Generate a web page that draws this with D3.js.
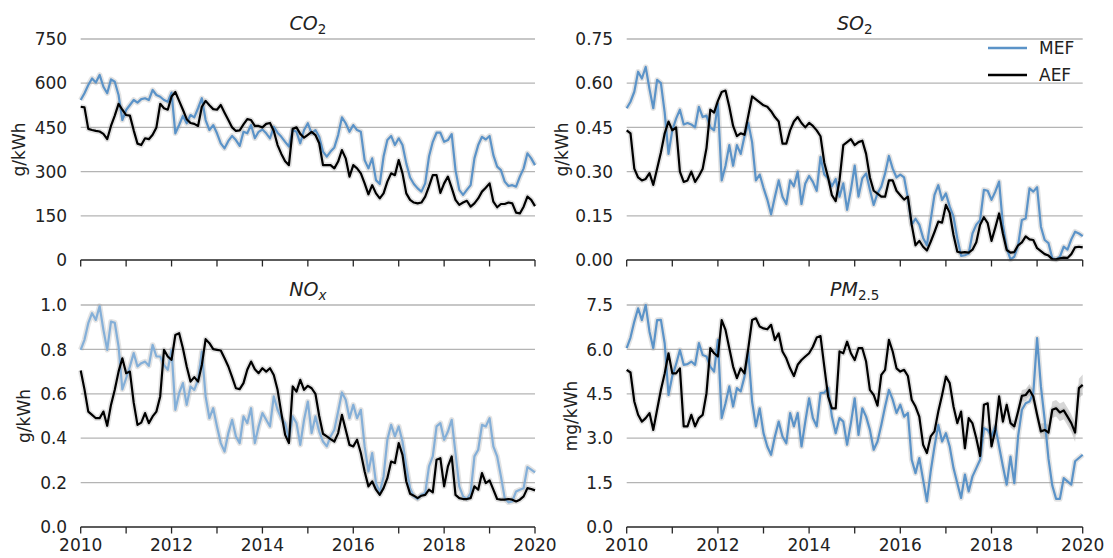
<!DOCTYPE html>
<html>
<head>
<meta charset="utf-8">
<script src="https://cdn.jsdelivr.net/npm/d3@7"></script>
<style>
  body { margin: 0; background: #fff; }
  svg { display: block; font-family: "DejaVu Sans", sans-serif; }
</style>
</head>
<body>
<svg id="chart" width="1113" height="558"></svg>
<script>
// Monthly emission factors, Jan 2010 .. Jan 2020 (121 months)
const startYear = 2010;

const co2MEF = [543,566,594,616,602,628,588,566,613,605,560,475,509,526,543,534,546,549,543,577,
  560,554,543,537,568,430,458,489,464,492,484,515,549,475,441,458,430,396,379,404,
  421,407,387,435,430,458,413,435,443,430,413,452,432,418,401,385,441,435,396,441,
  464,430,441,418,368,351,368,382,424,484,464,435,458,441,435,339,311,345,271,258,
  351,407,421,390,413,390,328,280,258,243,232,260,351,401,432,432,401,407,427,305,
  238,221,238,254,345,390,418,409,421,356,317,305,266,251,254,249,283,311,362,345,322];
const co2AEF = [520,518,445,441,438,436,428,410,455,490,530,510,492,490,440,395,390,413,410,425,
  450,530,515,510,555,570,540,510,478,465,462,455,520,540,525,512,510,526,500,475,
  450,438,440,460,478,475,455,455,450,462,465,438,390,360,335,322,445,450,428,415,
  425,435,424,396,322,322,322,311,334,373,345,283,322,311,294,260,223,254,226,209,
  226,266,294,288,339,294,226,204,195,192,195,215,250,288,288,228,260,283,245,204,
  187,195,201,181,192,209,232,245,260,198,179,190,190,195,192,161,158,181,215,204,183];

const so2MEF = [.515,.537,.571,.639,.616,.655,.58,.515,.611,.60,.50,.36,.44,.48,.51,.46,.465,.46,.45,.52,
  .485,.49,.45,.44,.53,.27,.32,.39,.32,.39,.36,.42,.465,.40,.27,.29,.245,.205,.155,.215,
  .27,.215,.19,.27,.25,.30,.19,.26,.285,.265,.235,.35,.29,.277,.25,.275,.215,.26,.17,.238,
  .32,.215,.277,.294,.238,.187,.226,.249,.294,.353,.31,.28,.29,.28,.21,.12,.14,.12,.075,.05,
  .136,.221,.254,.204,.226,.181,.147,.074,.014,.016,.022,.09,.12,.135,.238,.235,.204,.232,.266,.12,
  .04,.002,.011,.05,.136,.141,.243,.232,.247,.113,.068,.057,.006,.002,.011,.045,.035,.07,.096,.09,.081];
const so2AEF = [.44,.43,.31,.28,.27,.275,.295,.255,.31,.365,.43,.47,.44,.45,.30,.265,.27,.30,.265,.285,
  .31,.38,.51,.50,.54,.57,.575,.52,.455,.42,.43,.425,.49,.555,.545,.535,.525,.52,.505,.485,
  .47,.395,.395,.44,.47,.485,.465,.45,.465,.455,.44,.42,.33,.28,.22,.20,.27,.39,.40,.41,
  .39,.40,.405,.36,.28,.235,.225,.215,.215,.27,.27,.235,.22,.205,.215,.12,.05,.065,.045,.032,
  .062,.095,.13,.127,.187,.16,.085,.028,.025,.027,.025,.035,.06,.12,.145,.125,.065,.11,.158,.09,
  .034,.025,.027,.05,.06,.08,.07,.068,.04,.03,.02,.015,.003,.002,.006,.008,.007,.02,.043,.045,.043];

const noxMEF = [.798,.843,.918,.963,.933,.995,.888,.798,.925,.92,.813,.62,.67,.723,.783,.723,.738,.745,.726,.82,
  .768,.768,.73,.708,.798,.528,.603,.648,.55,.633,.618,.663,.79,.588,.49,.535,.453,.378,.34,.423,
  .483,.408,.378,.498,.468,.535,.378,.453,.513,.483,.453,.588,.528,.49,.468,.393,.498,.468,.37,.483,
  .565,.423,.498,.43,.385,.363,.408,.438,.52,.606,.573,.49,.55,.49,.528,.363,.25,.333,.198,.156,
  .228,.393,.46,.408,.453,.385,.273,.175,.138,.126,.145,.153,.273,.318,.453,.468,.393,.43,.483,.333,
  .183,.138,.126,.153,.318,.348,.46,.453,.49,.363,.318,.228,.13,.111,.115,.16,.168,.175,.27,.258,.246];
const noxAEF = [.705,.62,.52,.505,.49,.49,.52,.456,.55,.618,.70,.76,.693,.70,.56,.46,.47,.513,.468,.498,
  .52,.588,.798,.768,.753,.865,.873,.805,.723,.655,.675,.655,.73,.846,.828,.801,.798,.795,.76,.723,
  .675,.625,.621,.648,.708,.745,.711,.693,.715,.70,.715,.685,.618,.513,.415,.378,.633,.61,.663,.618,
  .636,.625,.60,.50,.42,.408,.396,.385,.423,.505,.438,.37,.363,.393,.333,.25,.183,.205,.168,.145,
  .175,.22,.295,.288,.378,.325,.205,.15,.141,.13,.141,.145,.168,.156,.303,.31,.183,.273,.318,.145,
  .13,.126,.126,.13,.183,.168,.243,.198,.21,.168,.126,.123,.123,.126,.123,.115,.123,.138,.175,.171,.165];

const pmMEF = [6.04,6.4,6.94,7.39,6.99,7.5,6.6,6.04,6.99,7.0,6.2,4.46,5.1,5.5,5.98,5.48,5.5,5.59,5.48,6.21,
  5.81,5.76,5.42,5.25,6.32,3.68,4.18,4.75,4.07,4.69,4.58,5.08,5.93,4.24,3.40,4.01,3.17,2.72,2.44,3.06,
  3.56,3.06,2.83,3.85,3.40,3.85,2.72,3.56,4.35,3.68,3.40,4.52,4.54,4.69,3.73,3.17,3.68,3.56,2.78,3.51,
  4.35,3.11,4.01,3.73,3.28,2.61,2.89,3.45,4.07,4.63,4.30,3.85,4.13,3.73,3.85,2.27,1.82,2.33,1.60,0.87,
  1.88,2.72,3.45,2.89,3.17,2.72,1.99,1.48,0.98,1.77,1.20,1.71,1.99,2.27,3.34,3.28,3.06,3.40,2.72,2.05,
  1.43,2.38,1.48,3.06,3.96,4.18,4.24,4.52,6.38,4.75,3.62,2.3,1.4,0.95,0.95,1.65,1.54,1.43,2.22,2.33,2.44];
const pmAEF = [5.31,5.22,4.24,3.79,3.56,3.68,3.85,3.28,3.96,4.63,5.19,5.87,5.19,5.19,5.36,3.40,3.40,3.79,3.40,3.68,
  3.79,4.52,6.04,5.87,5.76,6.99,6.66,6.04,5.42,5.03,5.36,5.19,6.04,6.99,7.05,6.77,6.71,6.68,6.83,6.32,
  6.54,5.93,5.70,5.36,5.10,5.48,5.64,5.76,5.87,6.09,6.4,6.45,5.42,4.41,4.01,4.01,5.93,5.87,6.26,5.87,
  5.64,6.04,6.04,5.59,4.63,4.46,4.1,5.14,5.31,6.32,5.93,5.36,5.25,5.31,5.10,4.30,4.07,3.73,2.78,2.50,
  3.06,3.23,3.90,4.46,5.08,4.86,4.07,3.51,3.90,2.66,3.68,3.5,3.0,2.4,4.13,4.18,2.72,3.28,4.41,3.56,
  4.13,3.51,3.40,3.90,4.43,4.46,4.63,4.41,3.79,3.23,3.28,3.19,3.96,4.01,3.87,3.94,3.73,3.51,3.19,4.69,4.8];
// half-width of the shaded interval on the PM2.5 average factor, Jan 2018 .. Jan 2020
const pmAEFSpread = [0.12,0.12,0.14,0.14,0.15,0.15,0.16,0.18,0.2,0.2,0.2,0.22,0.22,0.25,0.25,0.25,0.28,0.28,0.3,0.3,
  0.3,0.3,0.32,0.32,0.35];
const pmSpreadStart = 96;

const co2Ticks = [0,150,300,450,600,750];
const so2Ticks = [0,0.15,0.30,0.45,0.60,0.75];
const noxTicks = [0,0.2,0.4,0.6,0.8,1.0];
const pmTicks  = [0,1.5,3.0,4.5,6.0,7.5];
const yearTicks = [2010,2011,2012,2013,2014,2015,2016,2017,2018,2019,2020];
const yearLabels = [2010,2012,2014,2016,2018,2020];
const seriesNames = ["MEF","AEF"];

const C_MEF = "#5b93c8";
const C_MEF_LIGHT = "#84afd8";
const C_AEF = "#000000";

const panels = [
  {mef: co2MEF, aef: co2AEF, ticks: co2Ticks, fmt: d3.format("d"),   unit: "g/kWh",  title: ["CO","2",false], box: [80.7,535,39,260],   bottom:false, unitX: 19,  mefColor: C_MEF},
  {mef: so2MEF, aef: so2AEF, ticks: so2Ticks, fmt: d3.format(".2f"), unit: "g/kWh",  title: ["SO","2",false], box: [626.7,1082.7,39,260], bottom:false, unitX: 562, mefColor: C_MEF, legend:true},
  {mef: noxMEF, aef: noxAEF, ticks: noxTicks, fmt: d3.format(".1f"), unit: "g/kWh",  title: ["NO","x",true],  box: [80.7,535,305,527],  bottom:true,  unitX: 24,  mefColor: C_MEF_LIGHT},
  {mef: pmMEF,  aef: pmAEF,  ticks: pmTicks,  fmt: d3.format(".1f"), unit: "mg/kWh", title: ["PM","2.5",false], box: [626.7,1082.7,305,527], bottom:true, unitX: 571, mefColor: C_MEF, spread: pmAEFSpread}
];

const svg = d3.select("#chart");
const FONT = 17;

panels.forEach(p => {
  const [x0, x1, y0, y1] = p.box;
  const x = d3.scaleLinear().domain([startYear, startYear + 10]).range([x0, x1]);
  const y = d3.scaleLinear().domain([0, p.ticks[p.ticks.length - 1]]).range([y1, y0]);
  const tOf = i => startYear + i / 12;
  const g = svg.append("g");

  // horizontal gridlines
  g.selectAll("line.grid").data(p.ticks.filter(v => v > 0)).join("line")
    .attr("x1", x0).attr("x2", x1)
    .attr("y1", d => y(d)).attr("y2", d => y(d))
    .attr("stroke", "#b4b4b4").attr("stroke-width", 1.3);

  // y tick labels
  g.selectAll("text.ytick").data(p.ticks).join("text")
    .attr("x", x0 - 13.5).attr("y", d => y(d)).attr("dy", "0.36em")
    .attr("text-anchor", "end").attr("font-size", FONT).attr("fill", "#222")
    .text(d => p.fmt(d));

  // unit label
  g.append("text")
    .attr("transform", `translate(${p.unitX},${(y0 + y1) / 2}) rotate(-90)`)
    .attr("text-anchor", "middle").attr("dy", "0.36em")
    .attr("font-size", FONT).attr("fill", "#222").text(p.unit);

  // title with subscript
  const tt = g.append("text").attr("x", (x0 + x1) / 2).attr("y", y0 - 9)
    .attr("text-anchor", "middle").attr("font-size", 19).attr("fill", "#222");
  tt.append("tspan").attr("font-style", "italic").text(p.title[0]);
  tt.append("tspan").attr("font-size", 13.5).attr("dy", 4)
    .attr("font-style", p.title[2] ? "italic" : "normal").text(p.title[1]);

  // shaded interval on the average factor
  if (p.spread) {
    const idx = d3.range(p.spread.length).map(k => k + pmSpreadStart);
    g.append("path")
      .datum(idx)
      .attr("fill", "#bdbdbd").attr("opacity", 0.6)
      .attr("d", d3.area().x(i => x(tOf(i)))
        .y0(i => y(p.aef[i] - p.spread[i - pmSpreadStart]))
        .y1(i => y(p.aef[i] + p.spread[i - pmSpreadStart])));
  }

  const line = d3.line().x((d, i) => x(tOf(i))).y(d => y(d)).curve(d3.curveLinear);

  [[p.mef, p.mefColor], [p.aef, C_AEF]].forEach(([data, col]) => {
    g.append("path").datum(data).attr("d", line)
      .attr("fill", "none").attr("stroke", "#9a9a9a").attr("stroke-opacity", 0.28)
      .attr("stroke-width", 5.5).attr("stroke-linejoin", "round");
  });
  [[p.mef, p.mefColor], [p.aef, C_AEF]].forEach(([data, col]) => {
    g.append("path").datum(data).attr("d", line)
      .attr("fill", "none").attr("stroke", col)
      .attr("stroke-width", 2.2).attr("stroke-linejoin", "round");
  });

  // bottom spine and yearly ticks
  g.append("line").attr("x1", x0).attr("x2", x1).attr("y1", y1).attr("y2", y1)
    .attr("stroke", "#262626").attr("stroke-width", 1.3);
  g.selectAll("line.xtick").data(yearTicks).join("line")
    .attr("x1", d => x(d)).attr("x2", d => x(d))
    .attr("y1", y1).attr("y2", y1 + 6.5)
    .attr("stroke", "#262626").attr("stroke-width", 1.3);
  if (p.bottom) {
    g.selectAll("text.xtick").data(yearLabels).join("text")
      .attr("x", d => x(d)).attr("y", y1 + 23.5)
      .attr("text-anchor", "middle").attr("font-size", FONT).attr("fill", "#222")
      .text(d => d);
  }

  if (p.legend) {
    const lg = g.append("g");
    seriesNames.forEach((name, k) => {
      const ly = 48 + k * 27;
      lg.append("line").attr("x1", 988).attr("x2", 1027).attr("y1", ly).attr("y2", ly)
        .attr("stroke", k === 0 ? C_MEF : C_AEF).attr("stroke-width", 2.4);
      lg.append("text").attr("x", 1039).attr("y", ly).attr("dy", "0.36em")
        .attr("font-size", FONT).attr("fill", "#222").text(name);
    });
  }
});
</script>
</body>
</html>
